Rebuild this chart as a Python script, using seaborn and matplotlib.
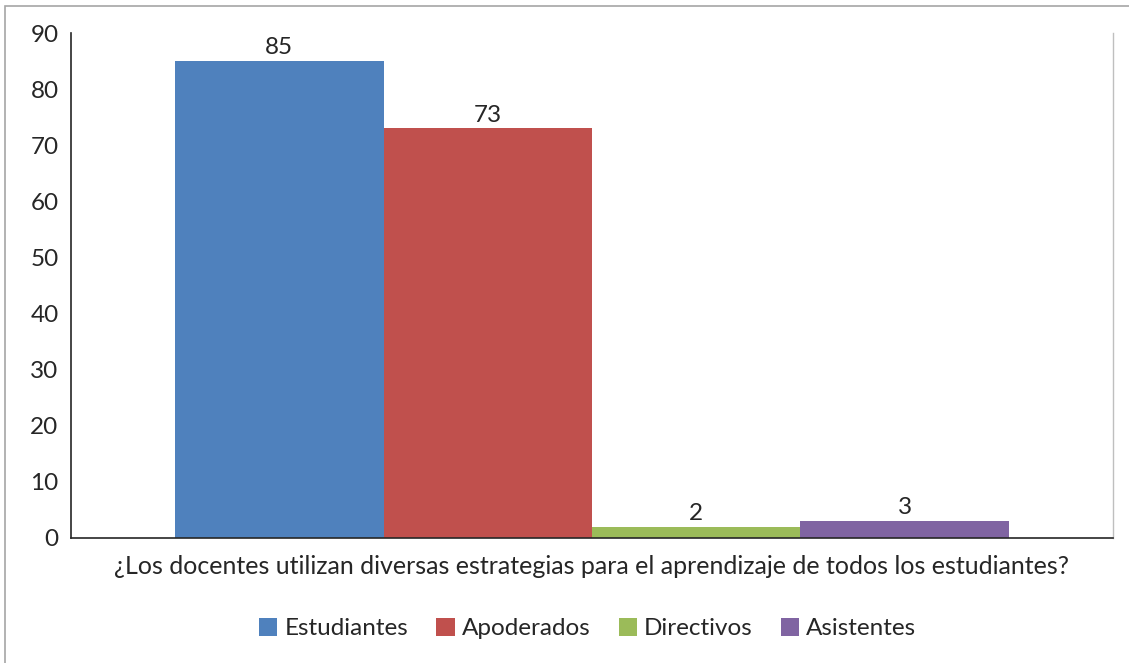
import matplotlib
matplotlib.use("Agg")
import matplotlib.pyplot as plt
import seaborn as sns
import pandas as pd
from matplotlib.patches import Rectangle

question = "¿Los docentes utilizan diversas estrategias para el aprendizaje de todos los estudiantes?"
groups = ["Estudiantes", "Apoderados", "Directivos", "Asistentes"]
values = [85, 73, 2, 3]
colors = ["#4F81BD", "#C0504D", "#9BBB59", "#8064A2"]
yticks = [0, 10, 20, 30, 40, 50, 60, 70, 80, 90]

df = pd.DataFrame({"pregunta": [question] * len(groups), "grupo": groups, "valor": values})

sns.set_theme(style="white")
plt.rcParams["font.family"] = ["Lato", "DejaVu Sans"]

FS = 17.5
TXT = "#262626"

fig = plt.figure(figsize=(11.29, 6.63), dpi=100)
ax = fig.add_axes([71 / 1129, 1 - 538 / 663, (1113 - 71) / 1129, (538 - 33) / 663])

sns.barplot(data=df, x="pregunta", y="valor", hue="grupo", hue_order=groups,
            palette=colors, width=0.8, saturation=1, ax=ax, legend=True,
            edgecolor="none", linewidth=0)

for container in ax.containers:
    ax.bar_label(container, fmt="%d", padding=2, fontsize=FS, color=TXT)

ax.set_ylim(0, 90)
ax.set_xlim(-0.5, 0.5)
ax.set_yticks(yticks)
ax.set_yticklabels([str(t) for t in yticks])
ax.tick_params(axis="y", length=0, pad=9, labelsize=FS, colors=TXT)
ax.tick_params(axis="x", length=0, pad=12, labelsize=18, colors=TXT)
ax.set_xlabel("")
ax.set_ylabel("")

for side in ["left", "bottom"]:
    ax.spines[side].set_color(TXT)
    ax.spines[side].set_linewidth(1.2)
ax.spines["right"].set_color("#BFBFBF")
ax.spines["right"].set_linewidth(1.0)
ax.spines["top"].set_visible(False)

leg = ax.legend(loc="center", bbox_to_anchor=(0.496, -0.179), ncol=4, frameon=False,
                fontsize=FS, handlelength=0.75, handleheight=0.75,
                handletextpad=0.3, columnspacing=1.15)
for t in leg.get_texts():
    t.set_color(TXT)

# outer chart border (only top and left edges fall inside the canvas)
fig.patches.append(Rectangle((5 / 1129, -0.05), 1.2, 1 - 6 / 663 + 0.05,
                             transform=fig.transFigure, fill=False,
                             edgecolor="#A6A6A6", linewidth=1.2))

fig.savefig("out.png", dpi=100)
